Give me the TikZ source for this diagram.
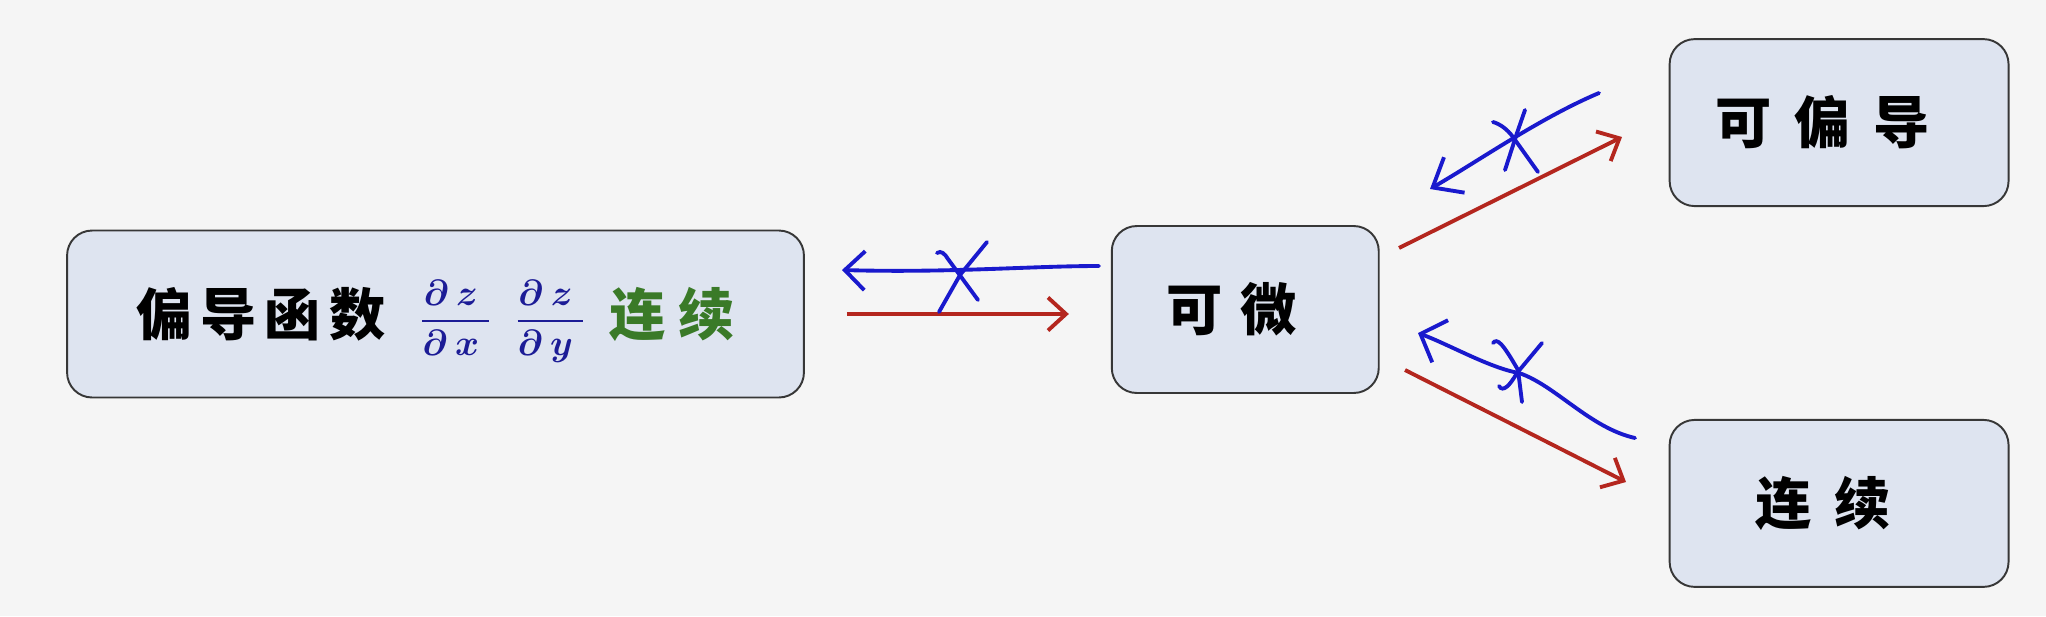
\documentclass[tikz,border=0pt]{standalone}
\usepackage{amsmath}
\usepackage{fontspec}
\newfontfamily\cjk{Noto Sans CJK SC}
\usepackage{tikz}
\usetikzlibrary{arrows.meta, positioning}
\definecolor{bggray}{RGB}{245,245,245}
\definecolor{boxfill}{RGB}{222,228,240}
\definecolor{boxline}{RGB}{55,55,55}
\definecolor{arrowred}{RGB}{180,38,30}
\definecolor{penblue}{RGB}{25,25,205}
\definecolor{fracblue}{RGB}{28,28,150}
\definecolor{okgreen}{RGB}{58,122,40}
\newcommand{\cjkgap}{\hspace{0.46cm}}
\newcommand{\pdfrac}[1]{{\color{fracblue}\fontsize{21}{25}\selectfont\smash{\raisebox{0.1cm}{$\dfrac{\boldsymbol{\partial}\hspace{0.2em}\boldsymbol{z}\hspace{0.28em}}{\boldsymbol{\partial}\hspace{0.2em}\boldsymbol{#1}\hspace{0.28em}}$}}}}

\begin{document}
\begin{tikzpicture}[
        x=0.02cm, y=-0.02cm,
        box/.style={rectangle, draw=boxline, line width=1.1pt, fill=boxfill, rounded corners=0.5cm, minimum height=3.34cm, align=center, font=\cjk\bfseries\fontsize{32}{38}\selectfont},
        implies/.style={draw=arrowred, line width=2.2pt, -{Straight Barb[length=0.36cm, width=0.66cm]}},
        notback/.style={draw=penblue, line width=2.2pt, line cap=round, line join=round},
        cross/.style={draw=penblue, line width=2.2pt, line cap=round}
    ]
        \fill[bggray] (0,0) rectangle (2046,616);

        \node[box, minimum width=14.74cm] (partial) at (435.5,314) {偏\hspace{0.16cm}导\hspace{0.16cm}函\hspace{0.16cm}数\hspace{0.7cm}\pdfrac{x}\hspace{0.48cm}\pdfrac{y}\hspace{0.48cm}\textcolor{okgreen}{连\hspace{0.25cm}续}};
        \node[box, minimum width=5.34cm, right=6.12cm of partial, yshift=0.09cm] (kewei) {可\hspace{0.34cm}微\hspace*{0.55cm}};
        \node[box, minimum width=6.78cm, above right=0.36cm and 5.78cm of kewei] (kepiandao) {可\cjkgap 偏\cjkgap 导\hspace*{0.65cm}};
        \node[box, minimum width=6.78cm, below right=0.5cm and 5.78cm of kewei] (lianxu) {连\cjkgap 续\hspace*{0.65cm}};

        \coordinate (upstart) at (1399,248);
        \coordinate (upend) at (1622,137);
        \coordinate (lowstart) at (1405,370);
        \coordinate (lowend) at (1626,482);
        \coordinate (backtip) at (842,270);
        \coordinate (backtail) at (1099,266);
        \coordinate (uptip) at (1430,189);
        \coordinate (uptail) at (1599,93);
        \coordinate (lowtip) at (1418,333);
        \coordinate (lowtail) at (1635,438);

        % red: implications
        \draw[implies, shorten <=0.84cm, shorten >=0.84cm] (partial.east) -- (partial.east -| kewei.west);
        \draw[implies] (upstart) -- (upend);
        \draw[implies] (lowstart) -- (lowend);

        % blue: the converse fails
        \draw[notback, {Straight Barb[length=0.4cm, width=0.78cm]}-] (backtip) .. controls (950,273) and (1030,266) .. (backtail);
        \draw[notback, {Straight Barb[length=0.5cm, width=0.82cm]}-] (uptip) .. controls (1480,160) and (1540,118) .. (uptail);
        \draw[notback, {Straight Barb[length=0.42cm, width=0.9cm]}-] (lowtip) .. controls (1450,345) and (1490,368) .. (1519,373) .. controls (1555,385) and (1590,428) .. (lowtail);
        \draw[cross] (987,242) -- (960,275) -- (939,312);
        \draw[cross] (937,253) .. controls (941,250) and (945,254) .. (948,259) -- (978,300);
        \draw[cross] (1525,110) -- (1517,133) -- (1505,170);
        \draw[cross] (1493,122) .. controls (1500,124) and (1507,129) .. (1513,137) -- (1538,172);
        \draw[cross] (1493,343) .. controls (1497,338) and (1502,342) .. (1518,370) -- (1522,402);
        \draw[cross] (1542,343) -- (1517,373) .. controls (1510,385) and (1503,393) .. (1499,386);
    \end{tikzpicture}
\end{document}
